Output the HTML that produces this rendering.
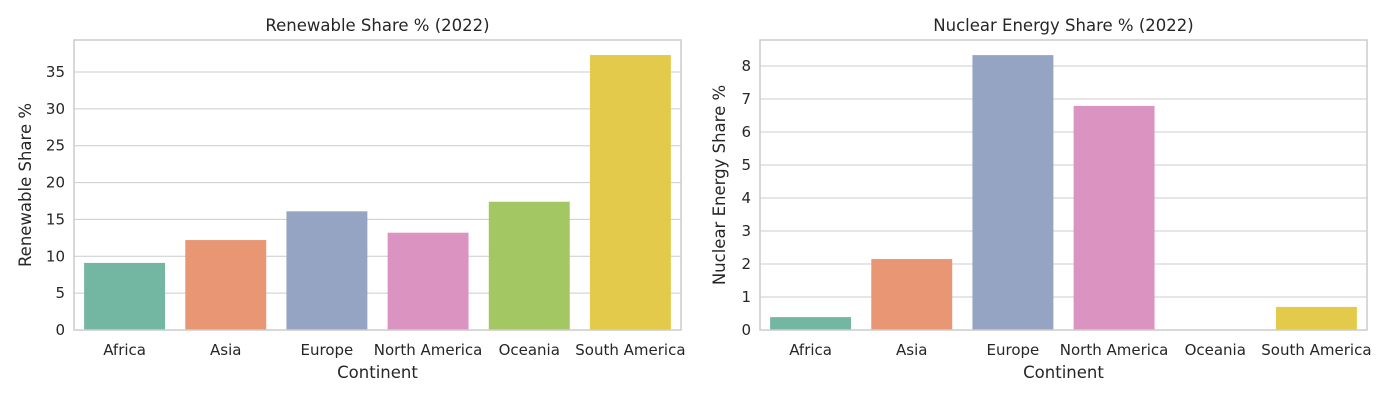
<!DOCTYPE html>
<html><head><meta charset="utf-8"><style>
body{margin:0;background:#fff;font-family:"Liberation Sans","DejaVu Sans",sans-serif;}
svg text{fill:#262626;font-family:"DejaVu Sans","Liberation Sans",sans-serif;}
</style></head><body>
<svg id="c" width="1400" height="400"></svg>
<script>
const categories=["Africa","Asia","Europe","North America","Oceania","South America"];
const renewableValues=[9.1,12.2,16.1,13.2,17.4,37.3];
const nuclearValues=[0.39,2.15,8.33,6.79,0,0.7];
const renewableTicks=[0,5,10,15,20,25,30,35];
const nuclearTicks=[0,1,2,3,4,5,6,7,8];
const colors=["#73b6a1","#e99675","#94a4c2","#db94c1","#a3c763","#e3ca4b"];
const svg=document.getElementById('c');
const NS="http://www.w3.org/2000/svg";
function el(t,a,p){const e=document.createElementNS(NS,t);for(const k in a)e.setAttribute(k,a[k]);(p||svg).appendChild(e);return e;}
function panel(x0,x1,y0,y1,ymax,vals,ticks,title,ylabel,name){
  const g=el('g',{});
  
  
  const ys=v=>y1-(v/ymax)*(y1-y0);
  const bw=(x1-x0)/categories.length;
  ticks.forEach(t=>{
    const l=el('line',{x1:x0,x2:x1,y1:ys(t),y2:ys(t),stroke:'#cccccc','stroke-width':1},g);
    
    
    const tx=el('text',{x:x0-9,y:ys(t)+5,'text-anchor':'end','font-size':15},g);tx.textContent=t;
    
    
  });
  vals.forEach((v,i)=>{
    const cx=x0+bw*(i+0.5);
    const r=el('rect',{x:cx-bw*0.4,y:ys(v),width:bw*0.8,height:y1-ys(v),fill:colors[i]},g);
    
    
    const tx=el('text',{x:cx,y:y1+25,'text-anchor':'middle','font-size':15},g);tx.textContent=categories[i];
    
    
  });
  const fr=el('rect',{x:x0,y:y0,width:x1-x0,height:y1-y0,fill:'none',stroke:'#cccccc','stroke-width':1.5},g);
  
  
  const t=el('text',{x:(x0+x1)/2,y:y0-9,'text-anchor':'middle','font-size':16.5},g);t.textContent=title;
  
  
  const xl=el('text',{x:(x0+x1)/2,y:y1+48,'text-anchor':'middle','font-size':16.5},g);xl.textContent='Continent';
  
  
  const yx=x0-(ymax>10?43:35);
  const yl=el('text',{x:yx,y:(y0+y1)/2,'text-anchor':'middle','font-size':16.5,transform:`rotate(-90 ${yx} ${(y0+y1)/2})`},g);yl.textContent=ylabel;
  
  
}
panel(74,681,40,330,290/(258/35),renewableValues,renewableTicks,'Renewable Share % (2022)','Renewable Share %','renewable-panel');
panel(760,1367,40,330,290/33,nuclearValues,nuclearTicks,'Nuclear Energy Share % (2022)','Nuclear Energy Share %','nuclear-panel');
</script>
</body></html>
